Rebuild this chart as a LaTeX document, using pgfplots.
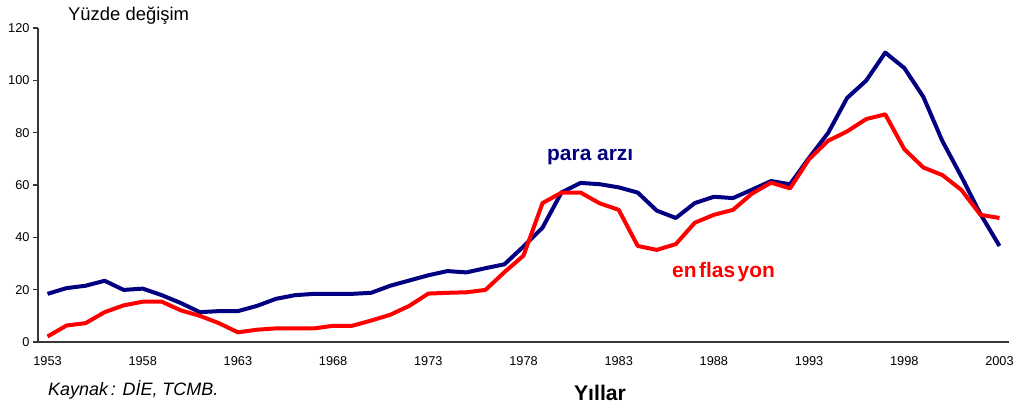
\documentclass[border=0pt]{standalone}
\usepackage{pgfplots}
\pgfplotsset{compat=1.18}
\usepackage{fontspec}
\setmainfont{Liberation Sans}
\definecolor{paranavy}{RGB}{0,0,128}
\definecolor{enfred}{RGB}{255,0,0}
\definecolor{axgray}{RGB}{55,55,55}
\begin{document}
\begin{tikzpicture}
\path[use as bounding box] (0,0) rectangle (1015bp,405bp);
\begin{axis}[
  at={(38bp,63bp)}, anchor=south west,
  scale only axis, width=971bp, height=314bp,
  xmin=1952.5, xmax=2003.5, ymin=0, ymax=120,
  axis lines*=left,
  axis line style={axgray, line width=1.4bp},
  clip=false,
  tick align=outside,
  major tick length=5bp, minor tick length=5bp,
  ytick={0,20,...,120},
  xtick={1953,1958,1963,1968,1973,1978,1983,1988,1993,1998,2003},
  xtick style={draw=none},
  minor xtick={1952.5,1953.5,...,2003.5},
  minor tick style={axgray, line width=1.2bp},
  ytick style={axgray, line width=1.2bp},
  /pgf/number format/assume math mode=true,
  tick label style={font=\fontsize{12.8}{15}\selectfont},
  xticklabel style={/pgf/number format/1000 sep={}, yshift=-6bp},
]
\addplot[paranavy, line width=4bp, line join=round] coordinates {
(1953,18.4) (1954,20.6) (1955,21.5) (1956,23.4) (1957,19.9) (1958,20.4)
(1959,17.9) (1960,14.9) (1961,11.4) (1962,11.8) (1963,11.8) (1964,13.8)
(1965,16.5) (1966,17.9) (1967,18.4) (1968,18.4) (1969,18.4) (1970,18.8)
(1971,21.5) (1972,23.5) (1973,25.5) (1974,27.1) (1975,26.6) (1976,28.2)
(1977,29.7) (1978,36.5) (1979,43.7) (1980,57.2) (1981,60.8) (1982,60.3)
(1983,59.1) (1984,57.1) (1985,50.2) (1986,47.4) (1987,53.1) (1988,55.5)
(1989,55.0) (1990,58.2) (1991,61.5) (1992,60.3) (1993,70.4) (1994,79.9)
(1995,93.3) (1996,99.9) (1997,110.6) (1998,104.7) (1999,93.7) (2000,76.8)
(2001,63.2) (2002,48.9) (2003,36.7)
};
\addplot[enfred, line width=4bp, line join=round] coordinates {
(1953,2.1) (1954,6.3) (1955,7.2) (1956,11.4) (1957,14.0) (1958,15.4)
(1959,15.4) (1960,12.1) (1961,10.0) (1962,7.2) (1963,3.7) (1964,4.7)
(1965,5.2) (1966,5.2) (1967,5.2) (1968,6.2) (1969,6.2) (1970,8.2)
(1971,10.4) (1972,13.8) (1973,18.5) (1974,18.8) (1975,19.0) (1976,19.9)
(1977,26.7) (1978,33.0) (1979,53.1) (1980,57.1) (1981,57.1) (1982,53.0)
(1983,50.5) (1984,36.7) (1985,35.2) (1986,37.4) (1987,45.6) (1988,48.6)
(1989,50.5) (1990,56.7) (1991,60.9) (1992,58.7) (1993,69.9) (1994,76.9)
(1995,80.5) (1996,85.2) (1997,87.0) (1998,73.7) (1999,66.7) (2000,63.8)
(2001,58.1) (2002,48.6) (2003,47.4)
};
\end{axis}
\node[anchor=base west, inner sep=0pt, font=\fontsize{18.5}{22}\selectfont] at (68bp,384bp) {Yüzde değişim};
\node[anchor=base west, inner sep=0pt, font=\fontsize{18}{22}\selectfont\itshape] at (48bp,10bp) {Kaynak\,: DİE, TCMB.};
\node[anchor=base, inner sep=0pt, font=\fontsize{21.3}{25}\selectfont\bfseries] at (600bp,4.5bp) {Yıllar};
\node[anchor=base west, inner sep=0pt, text=paranavy, font=\fontsize{21}{25}\selectfont\bfseries] at (547bp,244.3bp) {para arzı};
\node[anchor=base west, inner sep=0pt, text=enfred, font=\fontsize{21}{25}\selectfont\bfseries] at (672bp,127.3bp) {en\kern2.5bp flas\kern2.5bp yon};
\end{tikzpicture}
\end{document}
